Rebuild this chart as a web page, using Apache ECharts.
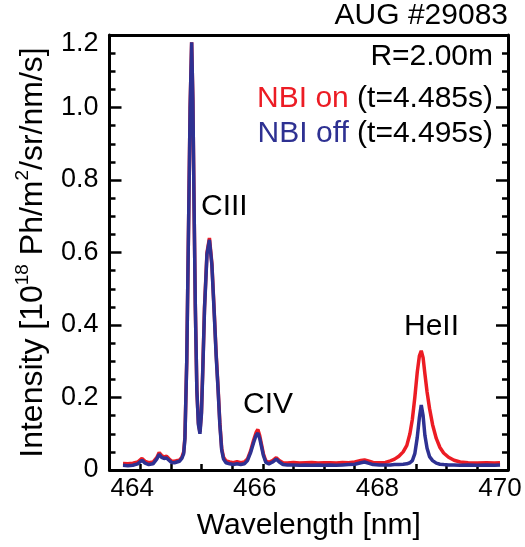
<!DOCTYPE html>
<html>
<head>
<meta charset="utf-8">
<script src="https://cdn.jsdelivr.net/npm/echarts@6/dist/echarts.min.js"></script>
<style>
html,body{margin:0;padding:0;background:#fff;}
#chart{width:525px;height:547px;}
</style>
</head>
<body>
<div id="chart"></div>
<script>
// Wavelength grid [nm]
var wavelength = [
463.72,463.80,463.88,463.96,464.03,464.08,464.14,464.21,464.27,464.31,
464.35,464.39,464.43,464.47,464.51,464.56,464.60,464.64,464.68,464.71,
464.73,464.76,464.79,464.815,464.84,464.86,464.88,464.90,464.925,464.95,
464.975,465.00,465.02,465.05,465.09,465.13,465.17,465.21,465.24,465.27,
465.30,465.33,465.36,465.40,465.46,465.52,465.58,465.64,465.70,465.75,
465.80,465.85,465.89,465.92,465.95,465.98,466.01,466.05,466.10,466.16,
466.22,466.27,466.33,466.40,466.50,466.60,466.70,466.80,466.90,467.00,
467.10,467.20,467.30,467.40,467.50,467.60,467.66,467.72,467.80,467.90,
468.00,468.08,468.15,468.22,468.29,468.35,468.40,468.44,468.48,468.52,
468.555,468.585,468.615,468.645,468.68,468.72,468.77,468.83,468.89,468.95,
469.03,469.12,469.22,469.35,469.50,469.65,469.78,469.87
];
// NBI on (t=4.485s), intensity [1e18 Ph/m2/sr/nm/s]
var nbiOn = [
0.018,0.017,0.019,0.022,0.032,0.024,0.020,0.022,0.034,0.048,
0.040,0.036,0.038,0.031,0.025,0.024,0.026,0.027,0.035,0.050,
0.090,0.30,0.68,1.00,1.18,1.02,0.72,0.45,0.22,0.13,
0.105,0.16,0.27,0.45,0.60,0.64,0.57,0.43,0.32,0.23,
0.13,0.06,0.035,0.025,0.022,0.020,0.023,0.020,0.022,0.030,
0.052,0.082,0.103,0.112,0.095,0.070,0.045,0.025,0.021,0.026,
0.034,0.026,0.020,0.019,0.021,0.019,0.020,0.021,0.019,0.020,
0.020,0.019,0.021,0.020,0.022,0.026,0.028,0.025,0.021,0.020,
0.021,0.025,0.030,0.038,0.050,0.068,0.100,0.140,0.200,0.270,
0.315,0.329,0.310,0.265,0.215,0.170,0.125,0.087,0.062,0.047,
0.035,0.027,0.022,0.020,0.019,0.020,0.019,0.020
];
// NBI off (t=4.495s)
var nbiOff = [
0.013,0.012,0.013,0.017,0.027,0.019,0.015,0.017,0.030,0.043,
0.035,0.032,0.033,0.027,0.021,0.020,0.022,0.024,0.032,0.045,
0.085,0.30,0.68,1.00,1.18,1.02,0.72,0.45,0.22,0.125,
0.100,0.155,0.265,0.445,0.595,0.635,0.565,0.425,0.315,0.225,
0.125,0.055,0.030,0.020,0.017,0.015,0.017,0.015,0.017,0.026,
0.047,0.075,0.095,0.102,0.087,0.064,0.040,0.021,0.017,0.022,
0.030,0.022,0.015,0.014,0.014,0.013,0.014,0.013,0.014,0.013,
0.014,0.013,0.014,0.015,0.016,0.020,0.022,0.019,0.015,0.014,
0.014,0.014,0.015,0.015,0.016,0.017,0.020,0.026,0.045,0.090,
0.145,0.179,0.150,0.095,0.060,0.037,0.026,0.019,0.016,0.015,
0.014,0.014,0.013,0.014,0.013,0.014,0.013,0.014
];
var xLabels = [464, 466, 468, 470];
var yLabels = [0, 0.2, 0.4, 0.6, 0.8, 1.0, 1.2];

var RED = '#ec1c24';
var BLUE = '#2e3192';
var FONT = '"Liberation Sans", Arial, Helvetica, sans-serif';

function pairs(ys) {
  return wavelength.map(function (x, i) { return [x, ys[i]]; });
}

var chart = echarts.init(document.getElementById('chart'), null, {renderer: 'canvas'});
var axisLineStyle = {color: '#000', width: 3};
chart.setOption({
  animation: false,
  backgroundColor: '#fff',
  grid: {left: 109.5, top: 35, right: 17, bottom: 77, containLabel: false},
  xAxis: [{
    type: 'value', min: 463.5, max: 470, interval: 0.5,
    axisLine: {show: true, onZero: false, lineStyle: axisLineStyle},
    axisTick: {show: true, inside: true, length: 6, lineStyle: {color: '#000', width: 2.5}},
    splitLine: {show: false},
    axisLabel: {
      show: true, margin: 6, fontSize: 26, fontFamily: FONT, color: '#000',
      padding: [0, 16, 0, 0],
      formatter: function (v) {
        for (var i = 0; i < xLabels.length; i++) {
          if (Math.abs(v - xLabels[i]) < 1e-6) return String(xLabels[i]);
        }
        return '';
      }
    },
    name: 'Wavelength [nm]', nameLocation: 'middle', nameGap: 41,
    nameTextStyle: {fontSize: 30, fontFamily: FONT, color: '#000'}
  }, {
    type: 'value', position: 'top', min: 463.5, max: 470, interval: 0.5,
    axisLine: {show: true, onZero: false, lineStyle: axisLineStyle},
    axisTick: {show: false}, axisLabel: {show: false}, splitLine: {show: false}
  }],
  yAxis: [{
    type: 'value', min: 0, max: 1.2, interval: 0.2,
    axisLine: {show: true, onZero: false, lineStyle: axisLineStyle},
    axisTick: {show: true, inside: true, length: 12, lineStyle: {color: '#000', width: 2.5}},
    minorTick: {show: true, splitNumber: 4, length: 6, lineStyle: {color: '#000', width: 2.5}},
    splitLine: {show: false}, minorSplitLine: {show: false},
    axisLabel: {
      show: true, margin: 11, fontSize: 27, fontFamily: FONT, color: '#000',
      formatter: function (v) {
        for (var i = 0; i < yLabels.length; i++) {
          if (Math.abs(v - yLabels[i]) < 1e-6) {
            var s = yLabels[i] === 0 ? '0' : yLabels[i].toFixed(1);
            return i === yLabels.length - 1 ? '{top|' + s + '}' : s;
          }
        }
        return '';
      },
      rich: {top: {fontSize: 27, fontFamily: FONT, color: '#000', padding: [18, 0, 0, 0]}}
    },
    name: '{m|Intensity [10}{s|18}{m| Ph/m}{s|2}{m|/sr/nm/s]}',
    nameLocation: 'middle', nameGap: 57, nameRotate: 90,
    nameTextStyle: {
      fontFamily: FONT, color: '#000',
      rich: {
        m: {fontSize: 32, fontFamily: FONT, color: '#000'},
        s: {fontSize: 19, fontFamily: FONT, color: '#000', padding: [0, 0, 20, 0]}
      }
    }
  }, {
    type: 'value', position: 'right', min: 0, max: 1.2, interval: 0.2,
    axisLine: {show: true, onZero: false, lineStyle: axisLineStyle},
    axisTick: {show: true, inside: true, length: 12, lineStyle: {color: '#000', width: 2.5}},
    minorTick: {show: true, splitNumber: 4, length: 6, lineStyle: {color: '#000', width: 2.5}},
    axisLabel: {show: false}, splitLine: {show: false}
  }],
  series: [{
    name: 'NBI on', type: 'line', data: pairs(nbiOn), showSymbol: false,
    lineStyle: {color: RED, width: 3.5}, itemStyle: {color: RED}, z: 2
  }, {
    name: 'NBI off', type: 'line', data: pairs(nbiOff), showSymbol: false,
    lineStyle: {color: BLUE, width: 3.5}, itemStyle: {color: BLUE}, z: 3
  }],
  graphic: [
    {type: 'text', x: 508, y: 16, style: {text: 'AUG #29083', align: 'right', verticalAlign: 'middle', font: '30px ' + FONT, fill: '#000'}},
    {type: 'text', x: 493, y: 57, style: {text: 'R=2.00m', align: 'right', verticalAlign: 'middle', font: '30px ' + FONT, fill: '#000'}},
    {type: 'text', x: 493, y: 99, style: {text: '{r|NBI on} (t=4.485s)', align: 'right', verticalAlign: 'middle', font: '30px ' + FONT, fill: '#000',
      rich: {r: {fill: RED, font: '30px ' + FONT}}}},
    {type: 'text', x: 493, y: 134, style: {text: '{b|NBI off} (t=4.495s)', align: 'right', verticalAlign: 'middle', font: '30px ' + FONT, fill: '#000',
      rich: {b: {fill: BLUE, font: '30px ' + FONT}}}},
    {type: 'text', x: 201, y: 207, style: {text: 'CIII', align: 'left', verticalAlign: 'middle', font: '30px ' + FONT, fill: '#000'}},
    {type: 'text', x: 243, y: 405, style: {text: 'CIV', align: 'left', verticalAlign: 'middle', font: '30px ' + FONT, fill: '#000'}},
    {type: 'text', x: 404, y: 327, style: {text: 'HeII', align: 'left', verticalAlign: 'middle', font: '30px ' + FONT, fill: '#000'}}
  ]
});
</script>
</body>
</html>
